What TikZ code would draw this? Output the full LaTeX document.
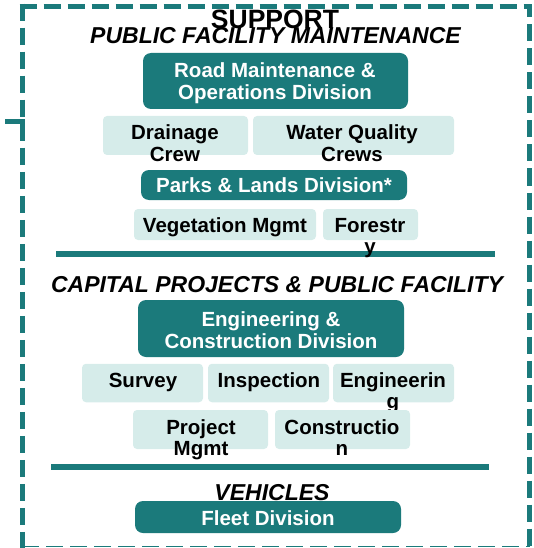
\documentclass[tikz,border=0pt]{standalone}
\usepackage{fontspec}
\setmainfont{Liberation Sans}
\definecolor{darkteal}{HTML}{1B7A7B}
\definecolor{paleteal}{HTML}{D6ECEA}

\begin{document}
\begin{tikzpicture}[x=1pt, y=-1pt, inner sep=0pt]
  \tikzstyle{divbox}=[fill=darkteal, rounded corners=8pt]
  \tikzstyle{crewbox}=[fill=paleteal, rounded corners=4pt]
  \tikzstyle{divtext}=[anchor=base, align=center, text=white, font=\bfseries\fontsize{20.5}{22}\selectfont]
  \tikzstyle{crewtext}=[anchor=base, align=center, text=black, font=\bfseries\fontsize{20.5}{21.5}\selectfont]
  \tikzstyle{heading}=[anchor=base, font=\bfseries\itshape\fontsize{23}{24}\selectfont]
  \tikzstyle{frameline}=[draw=darkteal, line width=5.5pt, dash pattern=on 17pt off 7pt]
  \tikzstyle{rule}=[draw=darkteal, line width=6pt]

  \useasboundingbox (0,0) rectangle (533,548);

  % dashed frame
  \draw[frameline] (19.5,6.5) -- (529.5,6.5) -- (529.5,547);
  \draw[frameline] (22.25,3.75) -- (22.25,548);
  \draw[frameline, line width=1.5pt] (22.25,546.5) -- (529.5,546.5);
  \draw[darkteal, line width=5.5pt] (5,121.5) -| (22.25,140);

  % headings (multi-line nodes sit on their last baseline)
  \node[anchor=base, font=\bfseries\fontsize{26.5}{28}\selectfont] (support) at (275,29) {SUPPORT};
  \node[heading] (pfm) at (275.5,44) {PUBLIC FACILITY MAINTENANCE};

  % public facility maintenance
  \node[divbox, minimum width=265pt, minimum height=56pt] (road) at (275.5,81) {};
  \node[divtext] (roadT) at (275,100) {Road Maintenance \&\\Operations Division};
  \node[crewbox, minimum width=145pt, minimum height=39pt] (drain) at (175.5,135.5) {};
  \node[crewtext] (drainT) at (175,161) {Drainage\\Crew};
  \node[crewbox, minimum width=201pt, minimum height=39pt] (water) at (353.5,135.5) {};
  \node[crewtext] (waterT) at (352,161) {Water Quality\\Crews};
  \node[divbox, minimum width=266pt, minimum height=30pt] (parks) at (274,185) {};
  \node[divtext] (parksT) at (274,192) {Parks \& Lands Division*};
  \node[crewbox, minimum width=182pt, minimum height=31pt] (veg) at (225,224.5) {};
  \node[crewtext] (vegT) at (225,232.5) {Vegetation Mgmt};
  \node[crewbox, minimum width=95pt, minimum height=31pt] (forest) at (370.5,224.5) {};
  \draw[rule] (56,254) -- (495,254);
  \node[crewtext] (forestT) at (370,253.5) {Forestr\\y};

  % capital projects
  \node[heading] (cap) at (277,292) {CAPITAL PROJECTS \& PUBLIC FACILITY};
  \node[divbox, minimum width=266pt, minimum height=57pt] (eng) at (271,328.5) {};
  \node[divtext] (engT) at (271,348) {Engineering \&\\Construction Division};
  \node[crewbox, minimum width=121pt, minimum height=38.5pt] (survey) at (142.5,383) {};
  \node[crewtext] (surveyT) at (143,387) {Survey};
  \node[crewbox, minimum width=121pt, minimum height=38.5pt] (insp) at (268.5,383) {};
  \node[crewtext] (inspT) at (269,387) {Inspection};
  \node[crewbox, minimum width=121pt, minimum height=38.5pt] (engcrew) at (393.5,383) {};
  \node[crewtext] (engcrewT) at (393,408.5) {Engineerin\\g};
  \node[crewbox, minimum width=135pt, minimum height=39pt] (pm) at (200.5,429.5) {};
  \node[crewtext] (pmT) at (201,455.5) {Project\\Mgmt};
  \node[crewbox, minimum width=135pt, minimum height=39pt] (constr) at (342.5,429.5) {};
  \node[crewtext] (constrT) at (342,455.5) {Constructio\\n};
  \draw[rule] (51,467) -- (489,467);

  % vehicles
  \node[heading] (veh) at (272,500) {VEHICLES};
  \node[divbox, minimum width=266pt, minimum height=32pt] (fleet) at (268,517) {};
  \node[divtext] (fleetT) at (268,525) {Fleet Division};
\end{tikzpicture}
\end{document}
